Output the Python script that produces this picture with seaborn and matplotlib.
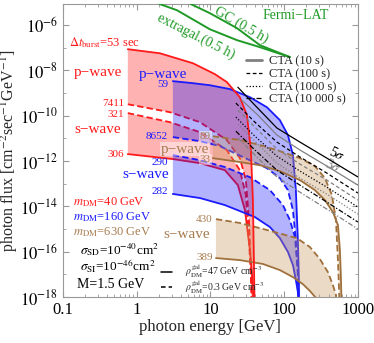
import numpy as np
import matplotlib
matplotlib.use("Agg")
import matplotlib.pyplot as plt
import seaborn as sns
from matplotlib.lines import Line2D
from matplotlib.ticker import NullFormatter

sns.set_style("ticks")
plt.rcParams['font.family'] = ['Liberation Serif', 'DejaVu Serif']
plt.rcParams['mathtext.fontset'] = 'stix'

# ---- data: photon energy [GeV] and log10(flux) ----
# m_DM = 40 GeV (red)
red_p_hi_e = [0.76, 2.07, 5.8, 11.5, 16.7, 25.1, 31.3, 35.4, 37.7, 38.9, 40.0]
red_p_hi_f = [-7.06, -7.24, -7.68, -8.16, -8.51, -9.18, -9.97, -11.51, -13.72, -16.37, -19.0]
red_p_lo_e = [0.76, 2.82, 7.21, 16.7, 25.1, 30.3, 33.3, 35.4, 36.6]
red_p_lo_f = [-9.49, -9.84, -10.28, -11.07, -11.87, -12.84, -14.60, -16.81, -19.0]
red_s_hi_e = [0.76, 2.82, 7.21, 16.7, 25.1, 30.3, 33.3, 35.4, 37.7]
red_s_hi_f = [-9.88, -10.28, -10.72, -11.51, -12.40, -13.50, -15.48, -17.03, -19.0]
red_s_lo_e = [0.76, 3.10, 7.21, 15.7, 23.6, 29.4, 34.4, 37.7, 38.9]
red_s_lo_f = [-11.69, -11.91, -12.09, -12.40, -13.06, -14.16, -15.93, -17.47, -19.0]

# m_DM = 160 GeV (blue)
blue_p_hi_e = [3.10, 5.79, 9.84, 18.4, 34.4, 58.3, 87.5, 112.5, 131.5, 144.2, 153.5, 158.5, 160.0]
blue_p_hi_f = [-8.47, -8.56, -8.65, -8.82, -9.18, -9.62, -10.19, -10.85, -11.73, -13.28, -15.48, -17.25, -19.0]
blue_p_lo_e = [3.10, 7.21, 13.5, 27.6, 58.3, 87.5, 112.5, 131.5, 144.2, 153.5, 158.5]
blue_p_lo_f = [-10.94, -11.12, -11.34, -11.82, -12.31, -12.75, -13.28, -14.16, -15.48, -17.03, -19.0]
blue_s_hi_e = [3.10, 7.21, 15.7, 34.4, 64.1, 96.2, 119.7, 140.0, 153.5, 158.5]
blue_s_hi_f = [-11.73, -11.96, -12.26, -12.71, -13.28, -13.94, -14.60, -15.35, -16.81, -19.0]
blue_s_lo_e = [3.10, 7.21, 15.7, 40.1, 64.1, 87.5, 112.5, 131.5, 144.2, 153.5, 158.5]
blue_s_lo_f = [-13.45, -13.63, -13.94, -14.47, -14.91, -15.40, -16.01, -16.59, -17.25, -17.78, -19.0]

# m_DM = 630 GeV (brown)
brown_p_hi_e = [10.8, 25.1, 46.9, 87.5, 163.7, 261, 357, 444, 504, 536, 552, 570]
brown_p_hi_f = [-10.90, -11.07, -11.29, -11.56, -11.87, -12.22, -12.75, -13.50, -14.60, -16.37, -17.47, -19.0]
brown_p_lo_e = [10.8, 25.1, 46.9, 87.5, 163.7, 261, 357, 458, 536, 570, 587, 607]
brown_p_lo_f = [-11.87, -12.04, -12.18, -12.44, -12.84, -13.28, -13.72, -14.25, -14.82, -15.93, -17.03, -19.0]
brown_s_hi_e = [11.9, 25.1, 58.3, 149, 223, 305, 392, 458, 504, 519]
brown_s_hi_f = [-14.56, -14.73, -15.04, -15.40, -15.79, -16.32, -16.90, -17.47, -17.91, -19.0]
brown_s_lo_e = [11.9, 25.1, 51.5, 87.5, 131.5, 179.5, 223, 270, 287]
brown_s_lo_f = [-16.28, -16.37, -16.54, -16.81, -17.12, -17.43, -17.73, -18.04, -19.0]

# CTA sensitivities (5 sigma black, 3 sigma gray)
cta_e_a = [23.6, 40.1, 79.8, 163.7, 380, 1000]
cta_e_b = [22.2, 40.1, 79.8, 163.7, 380, 1000]
cta_e_c = [26.7, 44.1, 79.8, 163.7, 380, 1000]
cta_e_d = [23.6, 42.8, 79.8, 163.7, 380, 1000]
cta5_10s = [-8.74, -9.53, -10.54, -11.16, -11.87, -12.70]
cta5_100s = [-9.44, -10.28, -11.16, -11.82, -12.53, -13.41]
cta5_1000s = [-10.06, -10.90, -11.78, -12.44, -13.15, -14.03]
cta5_10000s = [-10.68, -11.51, -12.40, -13.06, -13.81, -14.69]
cta3_10s = [-9.31, -9.97, -10.85, -11.51, -12.22, -13.06]
cta3_100s = [-9.75, -10.59, -11.47, -12.13, -12.84, -13.72]
cta3_1000s = [-10.37, -11.21, -12.09, -12.75, -13.46, -14.34]
cta3_10000s = [-10.98, -11.82, -12.70, -13.37, -14.12, -15.00]

# Fermi-LAT
extragal_e = [1.51, 2.07, 3.53, 9.84, 22.9, 46.9, 119.7]
extragal_f = [-4.81, -5.07, -5.34, -6.18, -6.66, -6.97, -7.41]
gc_e = [4.51, 5.45, 9.84, 22.9, 46.9, 119.7]
gc_f = [-4.81, -5.07, -5.47, -6.13, -6.88, -7.41]

RED = '#ff1a1a'
BLUE = '#1a1aff'
BROWN = '#a0703c'
BROWN_T = '#a87c50'
GREEN = '#1f9a26'
dash = (0, (3.5, 1.8))

fig = plt.figure(figsize=(3.74, 3.43), dpi=100)
ax = fig.add_axes([0.168, 0.134, 0.789, 0.854])
ax.set_xscale('log')
ax.set_yscale('log')


def band(e_top, f_top, e_bot, f_bot, color, alpha, z):
    xs = np.concatenate([e_top, e_bot[::-1]])
    ys = np.power(10.0, np.concatenate([f_top, f_bot[::-1]]))
    ax.fill(xs, ys, color=color, alpha=alpha, lw=0, zorder=z)


def curve(e, f, color, ls='-', lw=1.3, z=2):
    sns.lineplot(x=e, y=np.power(10.0, f), ax=ax, color=color, linestyle=ls,
                 lw=lw, sort=False, estimator=None, zorder=z)


# red
band(red_p_hi_e, red_p_hi_f, red_p_lo_e, red_p_lo_f, '#ff0000', 0.3, 1)
band(red_s_hi_e, red_s_hi_f, red_s_lo_e, red_s_lo_f, '#ff0000', 0.3, 1)
curve(red_p_lo_e, red_p_lo_f, RED, dash, z=1.5)
curve(red_s_hi_e, red_s_hi_f, RED, dash, z=1.5)
curve(red_s_lo_e, red_s_lo_f, RED, z=1.5)
# blue
band(blue_p_hi_e, blue_p_hi_f, blue_p_lo_e, blue_p_lo_f, '#0000ff', 0.3, 2)
band(blue_s_hi_e, blue_s_hi_f, blue_s_lo_e, blue_s_lo_f, '#0000ff', 0.3, 2)
curve(blue_p_hi_e, blue_p_hi_f, BLUE, z=2.5)
curve(blue_p_lo_e, blue_p_lo_f, BLUE, dash, z=2.5)
curve(blue_s_hi_e, blue_s_hi_f, BLUE, dash, z=2.5)
curve(blue_s_lo_e, blue_s_lo_f, BLUE, z=2.5)
# brown
band(brown_p_hi_e, brown_p_hi_f, brown_p_lo_e, brown_p_lo_f, '#c8965a', 0.35, 3)
band(brown_s_hi_e, brown_s_hi_f, brown_s_lo_e, brown_s_lo_f, '#c8965a', 0.35, 3)
curve(brown_p_hi_e, brown_p_hi_f, BROWN, dash, z=3.5)
curve(brown_p_lo_e, brown_p_lo_f, BROWN, z=3.5)
curve(brown_s_hi_e, brown_s_hi_f, BROWN, dash, z=3.5)
curve(brown_s_lo_e, brown_s_lo_f, BROWN, z=3.5)
curve(red_p_hi_e, red_p_hi_f, RED, z=3.6)

# CTA
for e, f, c, ls in [(cta_e_a, cta5_10s, 'black', '-'), (cta_e_b, cta5_100s, 'black', (0, (3, 2))),
                    (cta_e_b, cta5_1000s, 'black', (0, (1, 1.5))), (cta_e_b, cta5_10000s, 'black', (0, (4, 1.5, 1, 1.5))),
                    (cta_e_c, cta3_10s, 'gray', '-'), (cta_e_d, cta3_100s, 'gray', (0, (3, 2))),
                    (cta_e_d, cta3_1000s, 'gray', (0, (1, 1.5))), (cta_e_d, cta3_10000s, 'gray', (0, (4, 1.5, 1, 1.5)))]:
    curve(e, f, c, ls, lw=0.9, z=4)

# Fermi
curve(extragal_e, extragal_f, GREEN, lw=1.4, z=4)
curve(gc_e, gc_f, GREEN, lw=1.4, z=4)

ax.set_xlim(0.1, 1000)
ax.set_ylim(1e-18, 10 ** -5.07)
ax.set_yticks([10.0 ** k for k in range(-18, -5, 2)])
ax.set_yticklabels([r'$10^{%d}$' % k for k in range(-18, -5, 2)])
ax.set_yticks([10.0 ** k for k in range(-17, -5, 2)], minor=True)
ax.yaxis.set_minor_formatter(NullFormatter())
ax.set_xticks([0.1, 1, 10, 100, 1000])
ax.set_xticklabels(['0.1', '1', '10', '100', '1000'])
ax.xaxis.set_minor_formatter(NullFormatter())
ax.tick_params(which='both', direction='in', top=True, right=True, colors='#999999',
               labelcolor='black', labelsize=12)
ax.tick_params(which='major', length=4)
ax.tick_params(which='minor', length=2)
for s in ax.spines.values():
    s.set_color('#999999')
    s.set_linewidth(0.8)
ax.set_xlabel('photon energy [GeV]', fontsize=12, labelpad=1)
ax.set_ylabel(r'photon flux [cm$^{-2}$sec$^{-1}$GeV$^{-1}$]', fontsize=11.5, labelpad=0)

# legends
h1 = [Line2D([], [], color='gray', lw=2), Line2D([], [], color='black', lw=0.9, ls=(0, (3, 2))),
      Line2D([], [], color='black', lw=0.9, ls=(0, (1, 1.5))), Line2D([], [], color='black', lw=0.9, ls=(0, (4, 1.5, 1, 1.5)))]
leg1 = ax.legend(h1, ['CTA (10 s)', 'CTA (100 s)', 'CTA (1000 s)', 'CTA (10 000 s)'],
                 loc='upper left', bbox_to_anchor=(0.6, 0.845), frameon=False, fontsize=9,
                 handlelength=1.3, handletextpad=0.5, labelspacing=0.05, borderpad=0)
ax.add_artist(leg1)
h2 = [Line2D([], [], color='black', lw=1.1), Line2D([], [], color='black', lw=1.1, ls=(0, (3, 2)))]
ax.legend(h2, [r'$\rho_{\rm DM}^{\rm gal}$=47 GeV cm$^{-3}$', r'$\rho_{\rm DM}^{\rm gal}$=0.3 GeV cm$^{-3}$'],
          loc='lower left', bbox_to_anchor=(0.315, -0.012), frameon=False, fontsize=7,
          handlelength=1.2, handletextpad=1.3, labelspacing=-0.15, borderpad=0)

T = ax.transAxes
box = dict(facecolor='white', alpha=0.45, edgecolor='none', pad=0.5)
ax.text(0.142, 0.867, r'$\Delta t_{\rm burst}$=53 sec', color=RED, fontsize=9, ha='center', va='center', transform=T)
ax.text(0.119, 0.768, 'p\u2212wave', color=RED, fontsize=11, ha='center', va='center', transform=T)
ax.text(0.207, 0.661, '7411', color=RED, fontsize=8, ha='right', va='center', transform=T)
ax.text(0.207, 0.623, '321', color=RED, fontsize=8, ha='right', va='center', transform=T)
ax.text(0.119, 0.573, 's\u2212wave', color=RED, fontsize=11, ha='center', va='center', transform=T)
ax.text(0.207, 0.488, '306', color=RED, fontsize=8, ha='right', va='center', transform=T)
ax.text(0.339, 0.761, 'p\u2212wave', color=BLUE, fontsize=11, ha='center', va='center', transform=T)
ax.text(0.356, 0.724, '59', color=BLUE, fontsize=8, ha='right', va='center', transform=T)
ax.text(0.356, 0.549, '8652', color=BLUE, fontsize=8, ha='right', va='center', transform=T)
ax.text(0.356, 0.461, '290', color=BLUE, fontsize=8, ha='right', va='center', transform=T)
ax.text(0.281, 0.420, 's\u2212wave', color=BLUE, fontsize=11, ha='center', va='center', transform=T)
ax.text(0.356, 0.362, '282', color=BLUE, fontsize=8, ha='right', va='center', transform=T)
ax.text(0.415, 0.505, 'p\u2212wave', color=BROWN_T, fontsize=11, ha='center', va='center', transform=T, bbox=box, zorder=5)
ax.text(0.483, 0.548, '89', color=BROWN_T, fontsize=8, ha='center', va='center', transform=T, bbox=box, zorder=5)
ax.text(0.483, 0.469, '33', color=BROWN_T, fontsize=8, ha='center', va='center', transform=T, bbox=box, zorder=5)
ax.text(0.508, 0.266, '430', color=BROWN_T, fontsize=8, ha='right', va='center', transform=T)
ax.text(0.420, 0.212, 's\u2212wave', color=BROWN_T, fontsize=11, ha='center', va='center', transform=T)
ax.text(0.508, 0.135, '389', color=BROWN_T, fontsize=8, ha='right', va='center', transform=T)
ax.text(0.034, 0.324, r'$m_{\rm DM}$=40 GeV', color=RED, fontsize=9, ha='left', va='center', transform=T)
ax.text(0.034, 0.273, r'$m_{\rm DM}$=160 GeV', color=BLUE, fontsize=9, ha='left', va='center', transform=T)
ax.text(0.034, 0.222, r'$m_{\rm DM}$=630 GeV', color=BROWN_T, fontsize=9, ha='left', va='center', transform=T)
ax.text(0.058, 0.162, r'$\sigma_{\rm SD}$=10$^{-40}$cm$^2$', color='black', fontsize=9.5, ha='left', va='center', transform=T)
ax.text(0.058, 0.104, r'$\sigma_{\rm SI}$=10$^{-46}$cm$^2$', color='black', fontsize=9.5, ha='left', va='center', transform=T)
ax.text(0.047, 0.044, 'M=1.5 GeV', color='black', fontsize=10, ha='left', va='center', transform=T)
ax.text(0.790, 0.962, 'Fermi\u2212LAT', color=GREEN, fontsize=10, ha='center', va='center', transform=T)
ax.text(0.603, 0.928, 'GC (0.5 h)', color=GREEN, fontsize=10, ha='center', va='center', rotation=-30, transform=T)
ax.text(0.451, 0.891, 'extragal.(0.5 h)', color=GREEN, fontsize=10, ha='center', va='center', rotation=-27, transform=T)
ax.text(0.929, 0.488, r'5$\sigma$', color='black', fontsize=10, ha='center', va='center', rotation=-25,
        rotation_mode='anchor', transform=T)
ax.text(0.915, 0.447, r'3$\sigma$', color='gray', fontsize=10, ha='center', va='center', rotation=-25,
        rotation_mode='anchor', transform=T)

fig.savefig('out.png', dpi=100)
